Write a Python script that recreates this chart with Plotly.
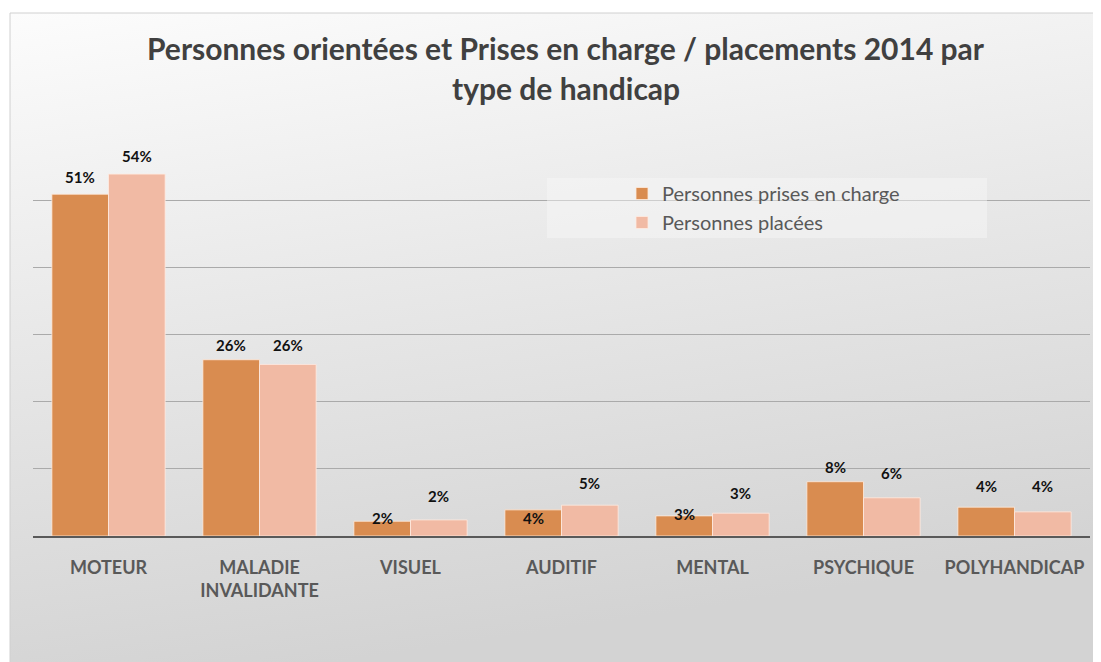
import base64
import plotly.graph_objects as go

categories = ["MOTEUR", "MALADIE<br>INVALIDANTE", "VISUEL", "AUDITIF", "MENTAL", "PSYCHIQUE", "POLYHANDICAP"]
prises_en_charge = [51.0, 26.3, 2.2, 3.9, 3.0, 8.1, 4.3]
placees = [54.0, 25.6, 2.4, 4.6, 3.4, 5.7, 3.6]
series_names = ["Personnes prises en charge", "Personnes placées"]
title_lines = ["Personnes orientées et Prises en charge / placements 2014 par", "type de handicap"]

# style: label vertical shifts in pixels (as placed in the original chart)
shift_prises = [17, 15, 3, -8, 2, 15, 21]
shift_placees = [18, 19, 24, 22, 20, 25, 26]

COL_A = "#D98C50"
COL_B = "#F1BAA4"
FONT = "Lato"

OFF = 8  # page offset of the figure (body margin)
W, H = 1101 - OFF, 662 - OFF
# plot area in page coordinates
PX0, PX1, PY0, PY1 = 33, 1090, 154, 536
L, R, T, B = PX0 - OFF, W - (PX1 - OFF), PY0 - OFF, H - (PY1 - OFF)
PW, PH = PX1 - PX0, PY1 - PY0


def px(x):
    return (x - PX0) / PW


def py(y):
    return (PY1 - y) / PH


svg = (
    '<svg xmlns="http://www.w3.org/2000/svg" width="100" height="100" preserveAspectRatio="none">'
    '<defs><linearGradient id="g" x1="0" y1="0" x2="0.25" y2="1">'
    '<stop offset="0" stop-color="#fcfcfc"/><stop offset="0.45" stop-color="#e9e9e9"/>'
    '<stop offset="1" stop-color="#d3d3d3"/></linearGradient></defs>'
    '<rect width="100" height="100" fill="url(#g)"/></svg>'
)
src = "data:image/svg+xml;base64," + base64.b64encode(svg.encode()).decode()

fig = go.Figure()
fig.add_bar(x=categories, y=prises_en_charge, name=series_names[0], legendgroup="a",
            marker=dict(color=COL_A, line=dict(color="rgba(255,235,220,0.8)", width=1)))
fig.add_bar(x=categories, y=placees, name=series_names[1], legendgroup="b",
            marker=dict(color=COL_B, line=dict(color="rgba(255,235,225,0.8)", width=1)))

ann = []
half = 0.1875
lab_font = dict(family=FONT, size=15, color="#111111", weight="bold")
for i, (a, b) in enumerate(zip(prises_en_charge, placees)):
    ann.append(dict(x=i - half, y=a, xref="x", yref="y", text=f"{round(a)}%",
                    showarrow=False, yanchor="middle", yshift=shift_prises[i], font=lab_font))
    ann.append(dict(x=i + half, y=b, xref="x", yref="y", text=f"{round(b)}%",
                    showarrow=False, yanchor="middle", yshift=shift_placees[i], font=lab_font))

for line, yc in zip(title_lines, [48, 88]):
    ann.append(dict(x=px(566), y=py(yc), xref="paper", yref="paper", text=line,
                    showarrow=False, xanchor="center", yanchor="middle",
                    font=dict(family=FONT, size=30, color="#404040", weight="bold")))

shapes = [
    dict(type="rect", xref="paper", yref="paper", x0=px(10), x1=px(1115), y0=py(13), y1=py(675),
         line=dict(color="#d0d0d0", width=1), fillcolor="rgba(0,0,0,0)", layer="below"),
    dict(type="rect", xref="paper", yref="paper", x0=px(547), x1=px(987), y0=py(178), y1=py(238),
         line=dict(width=0), fillcolor="rgba(248,248,248,0.45)", layer="above"),
]

fig.update_layout(
    width=W, height=H,
    margin=dict(l=L, r=R, t=T, b=B),
    paper_bgcolor="white",
    plot_bgcolor="rgba(0,0,0,0)",
    barmode="group", bargap=0.25, bargroupgap=0,
    showlegend=True,
    legend=dict(x=px(622), y=py(174), xanchor="left", yanchor="top",
                bgcolor="rgba(0,0,0,0)", tracegroupgap=0,
                font=dict(family=FONT, size=20, color="#595959")),
    images=[dict(source=src, xref="paper", yref="paper", x=px(10), y=py(13),
                 sizex=(1115 - 10) / PW, sizey=(670 - 13) / PH, xanchor="left", yanchor="top",
                 sizing="stretch", layer="below")],
    shapes=shapes,
    annotations=ann,
    xaxis=dict(showgrid=False, showline=True, linecolor="#595959", linewidth=2,
               ticks="outside", ticklen=14, tickcolor="rgba(0,0,0,0)",
               tickfont=dict(family=FONT, size=18, color="#595959", weight="bold"), fixedrange=True),
    yaxis=dict(range=[0, 57], tickvals=[10, 20, 30, 40, 50], showticklabels=False,
               showgrid=True, gridcolor="#aaaaaa", gridwidth=1, zeroline=False,
               showline=False, fixedrange=True),
    font=dict(family=FONT),
)

fig.write_html("out.html")
